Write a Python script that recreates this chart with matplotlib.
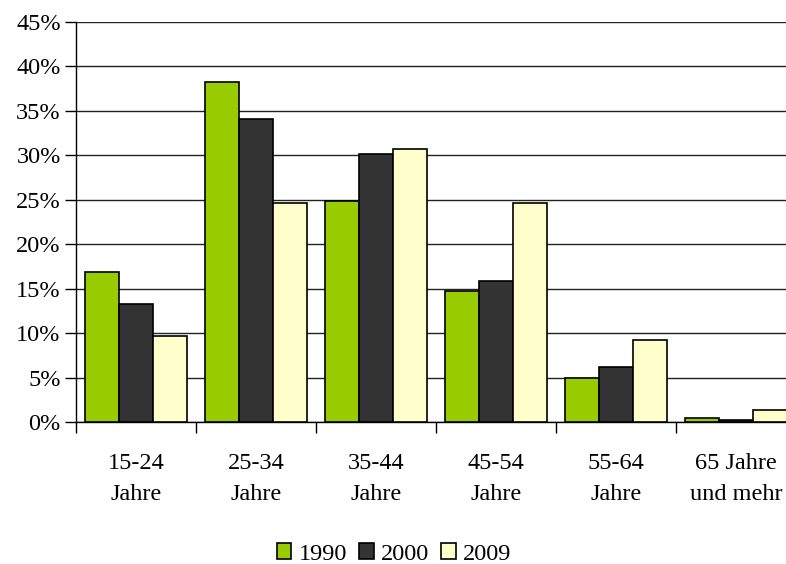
import numpy as np
import matplotlib.pyplot as plt
from matplotlib.ticker import FixedLocator, PercentFormatter

plt.rcParams['font.family'] = ['Liberation Serif', 'DejaVu Serif']

# Altersgruppen und Anteile in Prozent
gruppen = ['15-24\nJahre', '25-34\nJahre', '35-44\nJahre', '45-54\nJahre',
           '55-64\nJahre', '65 Jahre\nund mehr']
jahre = ['1990', '2000', '2009']
werte_1990 = [16.9, 38.2, 24.9, 14.7, 5.0, 0.4]
werte_2000 = [13.3, 34.1, 30.2, 15.9, 6.2, 0.2]
werte_2009 = [9.7, 24.6, 30.7, 24.6, 9.2, 1.3]
farben = ['#99cc00', '#333333', '#ffffcc']

fig = plt.figure(figsize=(7.86, 5.64), dpi=100)
ax = fig.add_axes([76 / 786, 142 / 564, 720 / 786, 400 / 564])

x = np.arange(len(gruppen))
breite = 0.285
for i, (werte, jahr) in enumerate(zip([werte_1990, werte_2000, werte_2009], jahre)):
    ax.bar(x + (i - 1) * breite, werte, breite, color=farben[i],
           edgecolor='black', linewidth=1.2, label=jahr, zorder=3)

ax.set_xlim(-0.5, len(gruppen) - 0.5)
ax.set_ylim(0, 45)
ax.set_yticks(np.arange(0, 46, 5))
ax.yaxis.set_major_formatter(PercentFormatter(decimals=0))
ax.grid(axis='y', color='#222222', linewidth=1, zorder=0)

ax.set_xticks(x)
ax.set_xticklabels(gruppen, linespacing=1.65)
ax.xaxis.set_minor_locator(FixedLocator(np.arange(-0.5, len(gruppen), 1.0)))
ax.tick_params(axis='x', which='major', length=0, pad=22, labelsize=17.5)
ax.tick_params(axis='x', which='minor', length=8, width=1, direction='out')
ax.tick_params(axis='y', length=8, width=1, direction='out', labelsize=17.5, pad=3)

for s in ['top', 'right']:
    ax.spines[s].set_visible(False)
for s in ['left', 'bottom']:
    ax.spines[s].set_linewidth(1)

fig.legend(loc='center', bbox_to_anchor=(394 / 786, 1 - 554 / 564), ncol=3,
           frameon=False, fontsize=17.5, handlelength=0.6, handleheight=0.6,
           handletextpad=0.3, columnspacing=0.5)

fig.savefig('out.png', dpi=100)
